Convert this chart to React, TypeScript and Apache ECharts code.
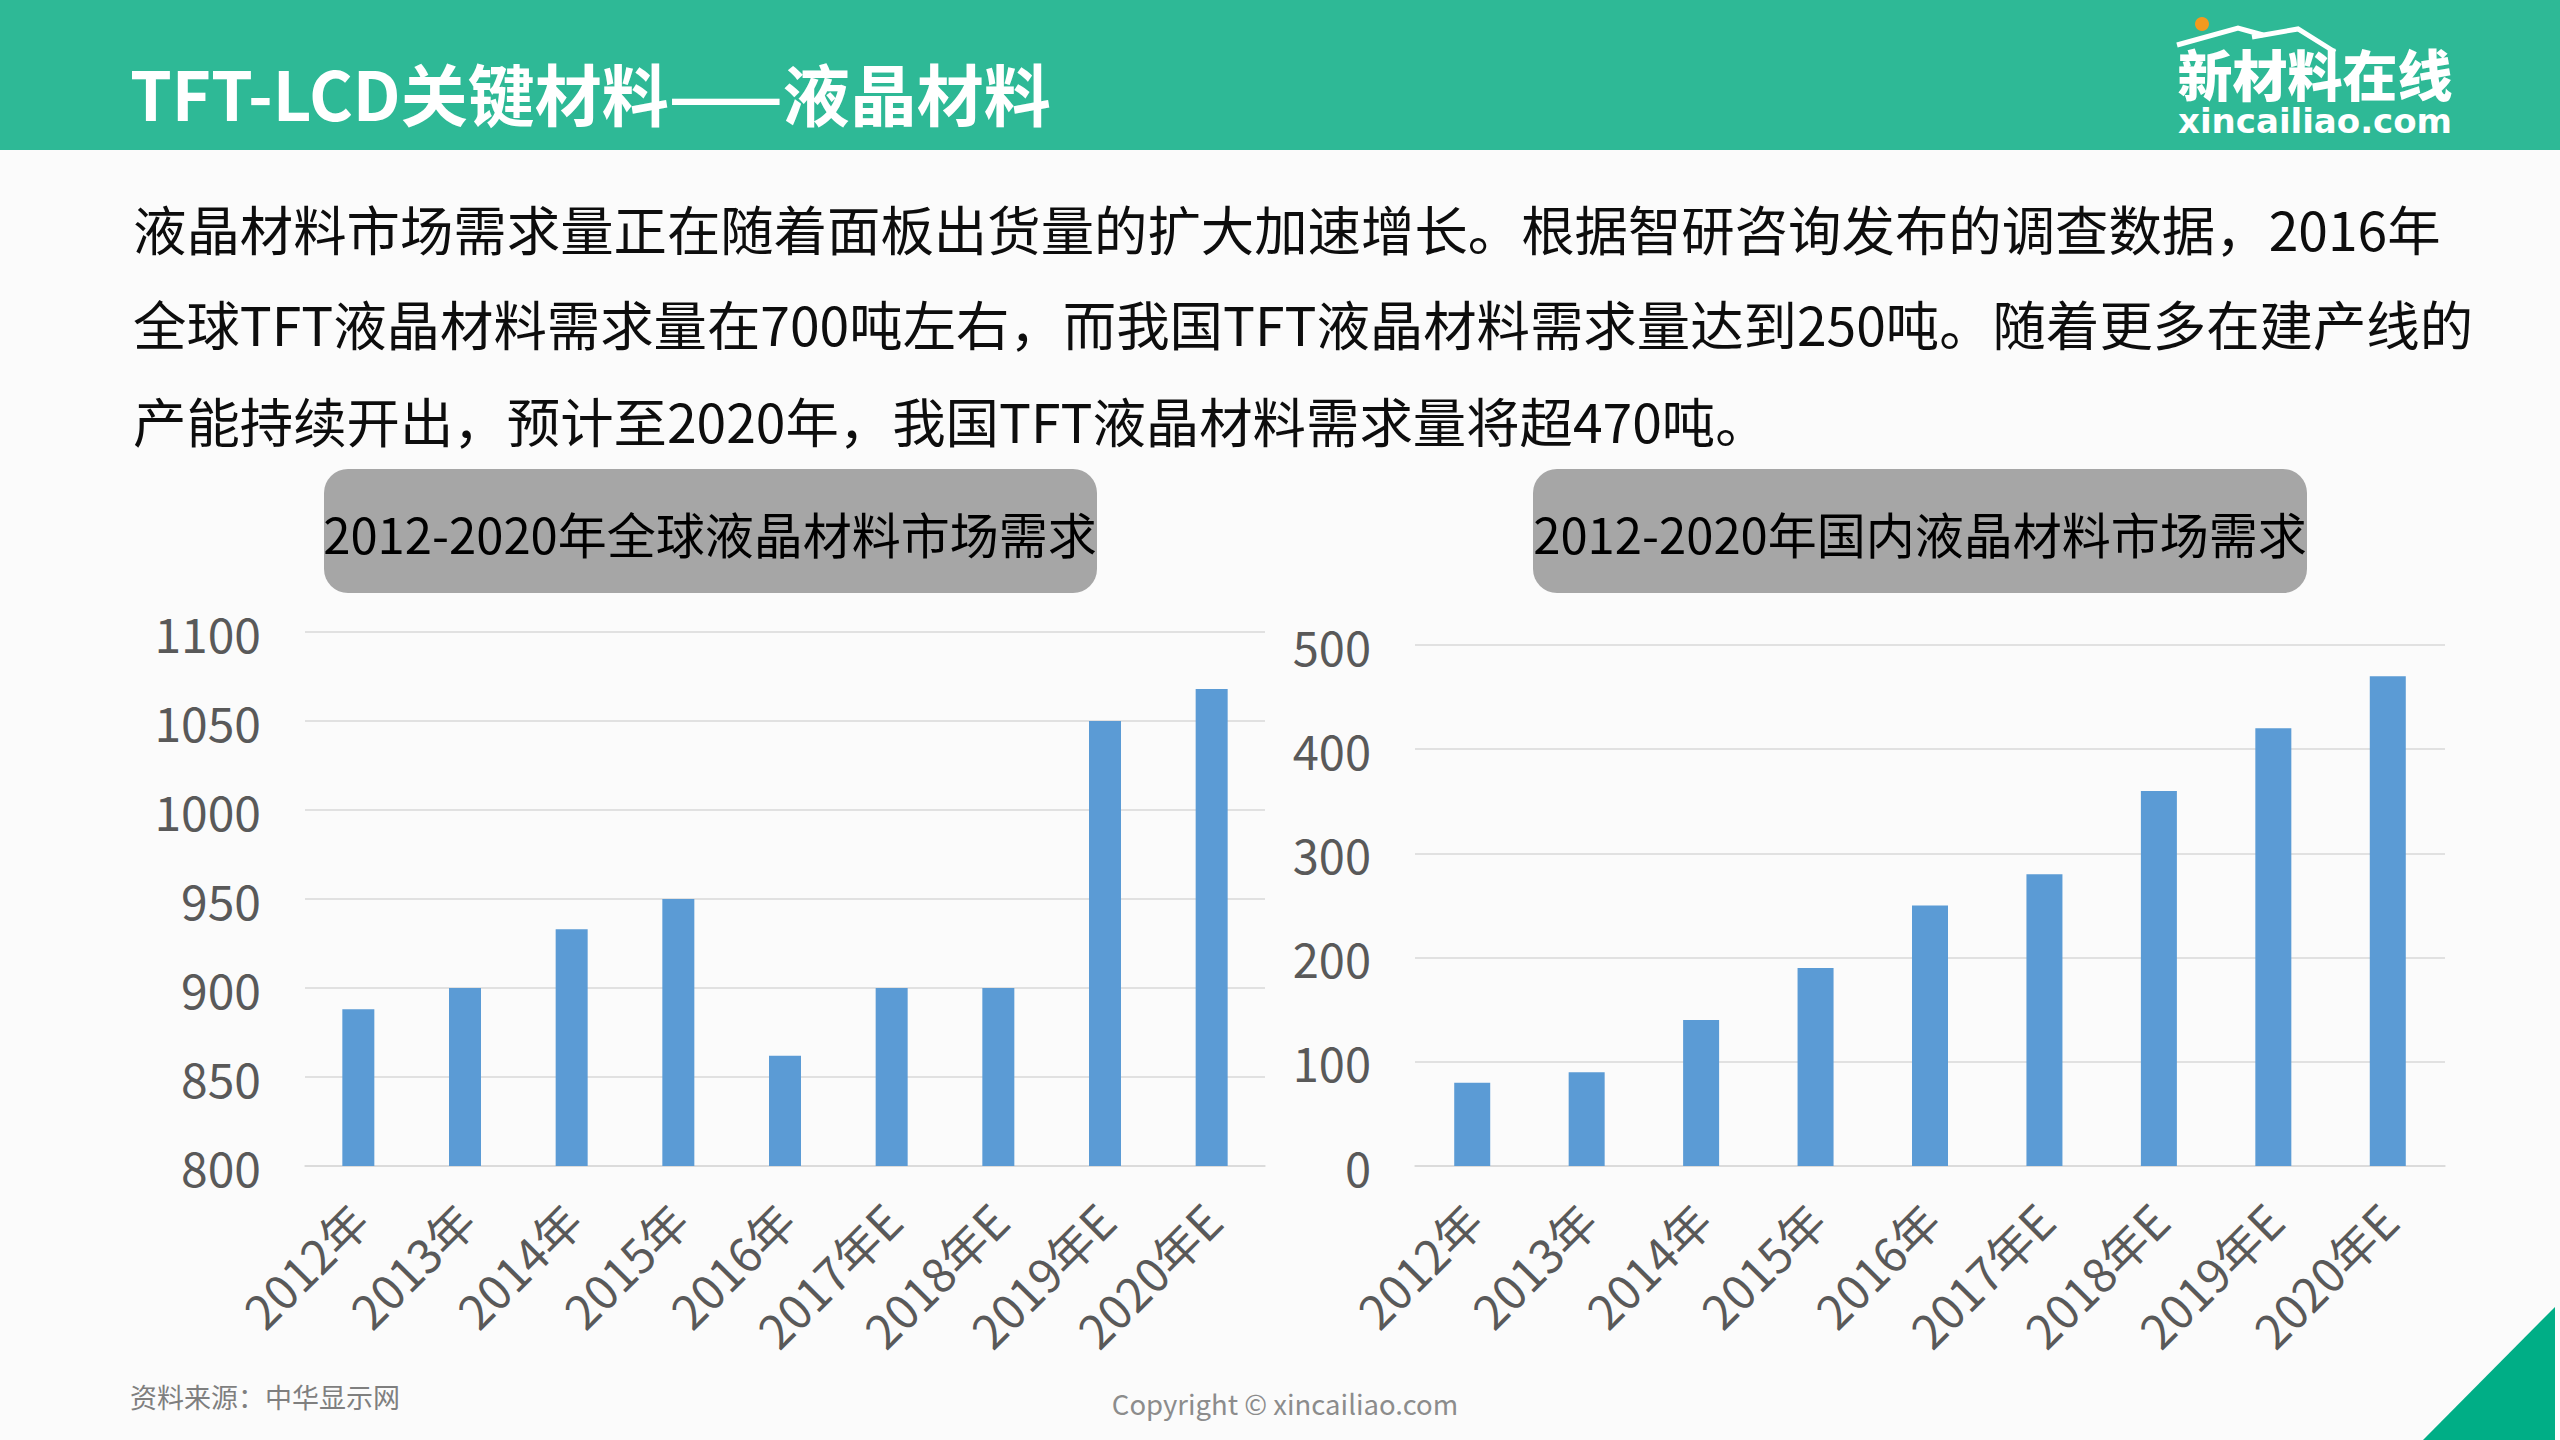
import React, { useEffect, useRef } from "react";
import * as echarts from "echarts";

const categories = ["2012年", "2013年", "2014年", "2015年", "2016年", "2017年E", "2018年E", "2019年E", "2020年E"];
const globalDemand = [888, 900, 933, 950, 862, 900, 900, 1050, 1068];
const chinaDemand = [80, 90, 140, 190, 250, 280, 360, 420, 470];
const globalAxis = { min: 800, max: 1100, interval: 50 };
const chinaAxis = { min: 0, max: 500, interval: 100 };

const pageTitle = "TFT-LCD关键材料——液晶材料";
const paragraphLines = [
  "液晶材料市场需求量正在随着面板出货量的扩大加速增长。根据智研咨询发布的调查数据，2016年",
  "全球TFT液晶材料需求量在700吨左右，而我国TFT液晶材料需求量达到250吨。随着更多在建产线的",
  "产能持续开出，预计至2020年，我国TFT液晶材料需求量将超470吨。",
];
const chartTitles = ["2012-2020年全球液晶材料市场需求", "2012-2020年国内液晶材料市场需求"];
const sourceText = "资料来源：中华显示网";
const copyrightText = "Copyright © xincailiao.com";
const logoCn = "新材料在线";
const logoEn = "xincailiao.com";

const CJK = '"Noto Sans CJK SC", "Noto Sans", sans-serif';
const BAR = "#5B9BD5";
const GRID_LINE = "#D9D9D9";
const LABEL = "#595959";

export default function App() {
  const ref = useRef<HTMLDivElement>(null);
  useEffect(() => {
    if (!ref.current) return;
    const chart = echarts.init(ref.current, undefined, { renderer: "svg", width: 2560, height: 1440 });

    const xAxisBase = (gridIndex: number) => ({
      type: "category" as const,
      gridIndex,
      data: categories,
      axisTick: { show: false },
      axisLine: { show: true, lineStyle: { color: GRID_LINE, width: 1.5 } },
      axisLabel: { rotate: 45, margin: 45, fontSize: 47, color: LABEL, fontFamily: CJK, interval: 0 },
    });
    const yAxisBase = (gridIndex: number, a: { min: number; max: number; interval: number }, fs: number) => ({
      type: "value" as const,
      gridIndex,
      min: a.min,
      max: a.max,
      interval: a.interval,
      axisLine: { show: false },
      axisTick: { show: false },
      axisLabel: { margin: 44, fontSize: fs, color: LABEL, fontFamily: CJK, formatter: (v: number) => String(v) },
      splitLine: { lineStyle: { color: GRID_LINE, width: 1.5 } },
    });

    const graphic: any[] = [
      { type: "rect", shape: { x: 0, y: 0, width: 2560, height: 150 }, style: { fill: "#2EB996" }, silent: true },
      {
        type: "text", x: 130, y: 91,
        style: { text: pageTitle, fontSize: 67, fontWeight: "bold", fontFamily: CJK, fill: "#FFFFFF", textAlign: "left", textVerticalAlign: "middle" },
      },
      // logo
      { type: "polyline", shape: { points: [[2177, 45], [2238, 28], [2263, 35]] }, style: { stroke: "#FFFFFF", lineWidth: 5, fill: null } },
      { type: "polyline", shape: { points: [[2252, 37], [2298, 29], [2335, 52]] }, style: { stroke: "#FFFFFF", lineWidth: 5, fill: null } },
      { type: "circle", shape: { cx: 2202, cy: 24, r: 7 }, style: { fill: "#F39A1E" } },
      {
        type: "text", x: 2315, y: 92,
        style: {
          text: "{a|" + logoCn + "}\n{b|" + logoEn + "}",
          textAlign: "center",
          textVerticalAlign: "middle",
          fill: "#FFFFFF",
          rich: {
            a: { fontSize: 55, fontWeight: 900, fontFamily: CJK, fill: "#FFFFFF", color: "#FFFFFF", lineHeight: 58, align: "center" },
            b: { fontSize: 34, fontWeight: "bold", fontFamily: '"DejaVu Sans", sans-serif', fill: "#FFFFFF", color: "#FFFFFF", lineHeight: 40, align: "center" },
          },
        },
      },
      // paragraph
      ...paragraphLines.map((t, i) => ({
        type: "text", x: 133, y: [227, 322, 419][i],
        style: { text: t, fontSize: 53.4, fontFamily: CJK, fill: "#0D0D0D", textAlign: "left", textVerticalAlign: "middle" },
      })),
      // chart title boxes
      { type: "rect", shape: { x: 324, y: 469, width: 773, height: 124, r: 24 }, style: { fill: "#A6A6A6" } },
      {
        type: "text", x: 710, y: 532,
        style: { text: chartTitles[0], fontSize: 49, fontFamily: CJK, fill: "#000000", textAlign: "center", textVerticalAlign: "middle" },
      },
      { type: "rect", shape: { x: 1533, y: 469, width: 774, height: 124, r: 24 }, style: { fill: "#A6A6A6" } },
      {
        type: "text", x: 1920, y: 532,
        style: { text: chartTitles[1], fontSize: 49, fontFamily: CJK, fill: "#000000", textAlign: "center", textVerticalAlign: "middle" },
      },
      // footer
      {
        type: "text", x: 130, y: 1396,
        style: { text: sourceText, fontSize: 27, fontFamily: CJK, fill: "#7F7F7F", textAlign: "left", textVerticalAlign: "middle" },
      },
      {
        type: "text", x: 1285, y: 1403,
        style: { text: copyrightText, fontSize: 27.5, fontFamily: CJK, fill: "#8C8C8C", textAlign: "center", textVerticalAlign: "middle" },
      },
      { type: "polygon", shape: { points: [[2423, 1440], [2555, 1440], [2555, 1307]] }, style: { fill: "#00AE86" } },
    ];

    chart.setOption({
      animation: false,
      backgroundColor: "#FBFBFB",
      grid: [
        { left: 305, top: 632, width: 960, height: 534 },
        { left: 1415, top: 645, width: 1030, height: 521 },
      ],
      xAxis: [xAxisBase(0), xAxisBase(1)],
      yAxis: [yAxisBase(0, globalAxis, 48), yAxisBase(1, chinaAxis, 47)],
      series: [
        { type: "bar", xAxisIndex: 0, yAxisIndex: 0, data: globalDemand, barWidth: 32, itemStyle: { color: BAR } },
        { type: "bar", xAxisIndex: 1, yAxisIndex: 1, data: chinaDemand, barWidth: 36, itemStyle: { color: BAR } },
      ],
      graphic,
    });
    return () => chart.dispose();
  }, []);
  return <div ref={ref} style={{ position: "fixed", left: 0, top: 0, width: 2560, height: 1440 }} />;
}
